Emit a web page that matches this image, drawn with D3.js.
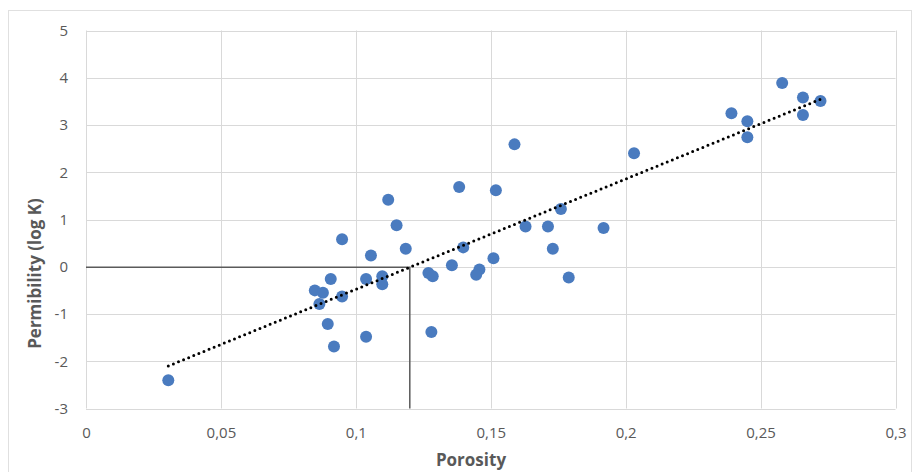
<!DOCTYPE html>
<html>
<head>
<meta charset="utf-8">
<script src="https://cdn.jsdelivr.net/npm/d3@7"></script>
<style>
  html, body { margin: 0; padding: 0; background: #fff; }
  svg { display: block; }
</style>
</head>
<body>
<svg id="chart" width="915" height="472"></svg>
<script>
// ---- data ----
const porosity = [0.0305, 0.258, 0.2657, 0.2722, 0.2657, 0.2392, 0.2451, 0.2451, 0.1588, 0.2031,
  0.1383, 0.1519, 0.1120, 0.1760, 0.1151, 0.1629, 0.1712, 0.1918, 0.0949, 0.1398,
  0.1730, 0.1185, 0.1056, 0.1510, 0.1356, 0.1269, 0.1285, 0.1458, 0.1446, 0.1789,
  0.0907, 0.1038, 0.1098, 0.1098, 0.0848, 0.0878, 0.0949, 0.0865, 0.0896, 0.1038,
  0.1280, 0.0919];
const permeability = [-2.40, 3.89, 3.58, 3.51, 3.21, 3.25, 3.08, 2.74, 2.59, 2.40,
  1.69, 1.62, 1.42, 1.22, 0.88, 0.85, 0.85, 0.82, 0.58, 0.41,
  0.38, 0.38, 0.24, 0.18, 0.03, -0.13, -0.20, -0.06, -0.17, -0.23,
  -0.26, -0.26, -0.20, -0.37, -0.50, -0.55, -0.63, -0.79, -1.21, -1.48,
  -1.38, -1.69];
const xTicks = [0, 0.05, 0.1, 0.15, 0.2, 0.25, 0.3];
const xTickLabels = ["0", "0,05", "0,1", "0,15", "0,2", "0,25", "0,3"];
const yTicks = [-3, -2, -1, 0, 1, 2, 3, 4, 5];
const readPorosity = [0.12];
const xTitle = "Porosity";
const yTitle = "Permibility (log K)";

// ---- layout ----
const svg = d3.select("#chart");
const pLeft = 86, pRight = 895.5, pTop = 30.5, pBottom = 408.5;
const x = d3.scaleLinear().domain([0, 0.3]).range([pLeft, pRight]);
const y = d3.scaleLinear().domain([-3, 5]).range([pBottom, pTop]);
const textColor = "#595959";
const font = "'Open Sans', 'Liberation Sans', sans-serif";

// chart border
svg.append("rect").attr("x", 8.5).attr("y", 10.5).attr("width", 903).attr("height", 470)
  .attr("fill", "none").attr("stroke", "#e0e0e0").attr("stroke-width", 1);

// gridlines
svg.append("g").selectAll("line").data(yTicks).join("line")
  .attr("x1", pLeft).attr("x2", pRight)
  .attr("y1", d => Math.round(y(d)) + 0.5).attr("y2", d => Math.round(y(d)) + 0.5)
  .attr("stroke", "#d9d9d9").attr("stroke-width", 1);
svg.append("g").selectAll("line").data(xTicks).join("line")
  .attr("y1", pTop).attr("y2", pBottom)
  .attr("x1", d => Math.round(x(d)) + 0.5).attr("x2", d => Math.round(x(d)) + 0.5)
  .attr("stroke", "#d9d9d9").attr("stroke-width", 1);

// axes via d3 axis (labels only)
const xAxis = d3.axisBottom(x).tickValues(xTicks).tickFormat((d, i) => xTickLabels[i]).tickSize(0).tickPadding(19);
const gx = svg.append("g").attr("transform", `translate(0,${pBottom})`).call(xAxis);
gx.select(".domain").remove();
gx.selectAll("text").attr("fill", textColor).style("font-family", font).style("font-size", "15px");

const yAxis = d3.axisLeft(y).tickValues(yTicks).tickFormat(d3.format("d")).tickSize(0).tickPadding(18);
const gy = svg.append("g").attr("transform", `translate(${pLeft},0)`).call(yAxis);
gy.select(".domain").remove();
gy.selectAll("text").attr("fill", textColor).style("font-family", font).style("font-size", "15px")
  .text(d => d < 0 ? "-" + Math.abs(d) : d);

// regression trendline
const n = porosity.length;
const mx = d3.mean(porosity), my = d3.mean(permeability);
let sxy = 0, sxx = 0;
for (let i = 0; i < n; i++) { sxy += (porosity[i] - mx) * (permeability[i] - my); sxx += (porosity[i] - mx) ** 2; }
const slope = sxy / sxx, intercept = my - slope * mx;
const fit = v => intercept + slope * v;
const xExt = d3.extent(porosity);

// reading lines
const rx = readPorosity[0];
svg.append("path")
  .attr("d", `M${x(0)},${y(fit(rx))}H${x(rx)}V${pBottom}`)
  .attr("fill", "none").attr("stroke", "#5a5a5a").attr("stroke-width", 1.5);

// points
svg.append("g").selectAll("circle").data(porosity).join("circle")
  .attr("cx", d => x(d)).attr("cy", (d, i) => y(permeability[i])).attr("r", 6)
  .attr("fill", "#4a7bbf");

// trendline
svg.append("line")
  .attr("x1", x(xExt[0])).attr("y1", y(fit(xExt[0])))
  .attr("x2", x(xExt[1])).attr("y2", y(fit(xExt[1])))
  .attr("stroke", "#000").attr("stroke-width", 3)
  .attr("stroke-linecap", "round").attr("stroke-dasharray", "0,5.5");

// titles
svg.append("text").attr("x", 471).attr("y", 466).attr("text-anchor", "middle")
  .attr("fill", textColor).style("font-family", font).style("font-size", "17px").style("font-weight", "bold")
  .text(xTitle);
svg.append("text").attr("transform", "translate(41,273.5) rotate(-90)").attr("text-anchor", "middle")
  .attr("fill", textColor).style("font-family", font).style("font-size", "17px").style("font-weight", "bold")
  .text(yTitle);
</script>
</body>
</html>
